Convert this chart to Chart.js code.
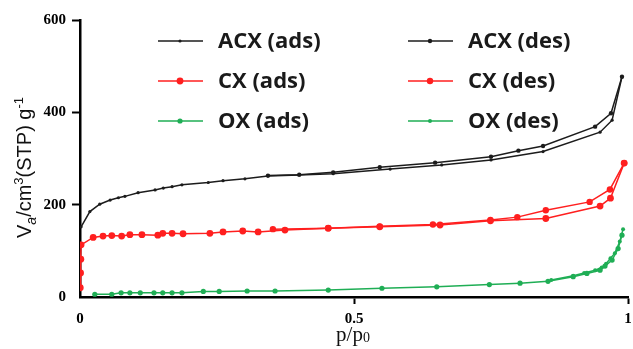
<!DOCTYPE html>
<html>
<head>
<meta charset="utf-8">
<script src="https://cdn.jsdelivr.net/npm/chart.js@4"></script>
<style>
  html, body { margin: 0; padding: 0; background: #fff; }
  #wrap { width: 633px; height: 349px; position: relative; }
</style>
</head>
<body>
<div id="wrap"><canvas id="isoChart"></canvas></div>
<script>
// Isotherm data (p/p0 vs volume adsorbed)
const acxAdsP = [0.002,0.018,0.036,0.055,0.07,0.082,0.106,0.137,0.152,0.168,0.186,0.234,0.261,0.301,0.343,0.40,0.462,0.566,0.66,0.75,0.845,0.949,0.971,0.989];
const acxAdsV = [152,185,201,210,215,218,226,232,236,239,243,248,252,256,262,264,267,277,286,297,315,357,383,477];
const acxDesP = [0.989,0.969,0.94,0.845,0.80,0.75,0.648,0.547,0.462,0.40,0.343];
const acxDesV = [477,398,369,327,317,304,291,281,270,265,263];

const cxAdsP = [0.0005,0.001,0.0015,0.002,0.024,0.042,0.058,0.076,0.091,0.113,0.142,0.151,0.168,0.188,0.237,0.261,0.297,0.325,0.374,0.453,0.547,0.657,0.749,0.85,0.949,0.968,0.993];
const cxAdsV = [20,52,82,113,129,132,133,132,135,135,134,138,138,137,138,141,143,141,145,149,152,156,165,170,197,214,290];
const cxDesP = [0.993,0.967,0.93,0.85,0.798,0.749,0.644,0.547,0.453,0.352];
const cxDesV = [290,233,206,188,173,167,157,153,149,147];

const oxAdsP = [0.027,0.058,0.075,0.091,0.11,0.135,0.151,0.168,0.186,0.225,0.254,0.305,0.356,0.453,0.551,0.651,0.747,0.803,0.854,0.9,0.925,0.949,0.958,0.971,0.982,0.989];
const oxAdsV = [6,6,9,9,9,9,9,9,9,12,12,13,13,15,19,22,27,30,34,44,51,58,67,80,105,134];
const oxDesP = [0.991,0.985,0.976,0.968,0.96,0.952,0.94,0.92,0.9,0.86];
const oxDesV = [147,120,95,84,72,64,58,52,46,37];

const seriesLabels = ['ACX (ads)','ACX (des)','CX (ads)','CX (des)','OX (ads)','OX (des)'];
const xTicks = [0, 0.5, 1];
const xTickLabels = ['0','0.5','1'];
const yTicks = [0, 200, 400, 600];

const BLACK = '#1c1c1c', RED = '#ff1f1f', GREEN = '#1fae55';

function pts(ps, vs) { return ps.map((p, i) => ({ x: p, y: vs[i] })); }

function series(label, ps, vs, color, r) {
  return {
    label, data: pts(ps, vs), showLine: true,
    borderColor: color, backgroundColor: color, borderWidth: 1.5,
    pointRadius: r, pointHoverRadius: r, pointBorderWidth: 0, tension: 0
  };
}

// legend + axis titles drawn by hand (2-column legend, sub/superscripts)
const decor = {
  id: 'decor',
  afterDraw(chart) {
    const ctx = chart.ctx;
    ctx.save();
    const cols = [158, 408], rows = [41, 81, 121];
    chart.data.datasets.forEach((ds, i) => {
      const x = cols[i % 2], y = rows[Math.floor(i / 2)];
      ctx.strokeStyle = ds.borderColor; ctx.lineWidth = 1.5;
      ctx.beginPath(); ctx.moveTo(x, y); ctx.lineTo(x + 45, y); ctx.stroke();
      ctx.fillStyle = ds.borderColor;
      ctx.beginPath(); ctx.arc(x + 22, y, ds.pointRadius, 0, Math.PI * 2); ctx.fill();
      ctx.fillStyle = '#1a1a1a';
      ctx.font = 'bold 22px "Open Sans"';
      ctx.textBaseline = 'middle';
      ctx.fillText(ds.label, x + 60, y + 1);
    });

    // y title
    ctx.translate(31, 238);
    ctx.rotate(-Math.PI / 2);
    ctx.textBaseline = 'alphabetic';
    ctx.fillStyle = '#111';
    let cx = 0;
    const part = (t, font, dy) => { ctx.font = font; ctx.fillText(t, cx, dy); cx += ctx.measureText(t).width; };
    part('V', '20px "Liberation Sans"', 0);
    part('a', 'italic 14px "Liberation Sans"', 5);
    part('/cm', '20px "Liberation Sans"', 0);
    part('3', '13px "Liberation Sans"', -8);
    part('(STP) g', '20px "Liberation Sans"', 0);
    part('-1', '13px "Liberation Sans"', -8);
    ctx.setTransform(1, 0, 0, 1, 0, 0);

    // x title
    ctx.font = '21px "Liberation Serif"';
    const w1 = ctx.measureText('p/p').width;
    ctx.font = '14px "Liberation Serif"';
    const w2 = ctx.measureText('0').width;
    const sx = 353 - (w1 + w2) / 2;
    ctx.font = '21px "Liberation Serif"';
    ctx.fillText('p/p', sx, 341);
    ctx.font = '14px "Liberation Serif"';
    ctx.fillText('0', sx + w1, 342);
    ctx.restore();
  }
};

const tickFont = { family: '"Liberation Serif"', weight: 'bold', size: 15 };

new Chart(document.getElementById('isoChart').getContext('2d'), {
  type: 'scatter',
  data: {
    datasets: [
      series(seriesLabels[0], acxAdsP, acxAdsV, BLACK, 1.6),
      series(seriesLabels[1], acxDesP, acxDesV, BLACK, 2.2),
      series(seriesLabels[2], cxAdsP, cxAdsV, RED, 3.4),
      series(seriesLabels[3], cxDesP, cxDesV, RED, 3.2),
      series(seriesLabels[4], oxAdsP, oxAdsV, GREEN, 2.6),
      series(seriesLabels[5], oxDesP, oxDesV, GREEN, 2)
    ]
  },
  options: {
    responsive: true, maintainAspectRatio: false, animation: false,
    layout: { padding: { top: 20, right: 5, left: 0, bottom: 0 } },
    plugins: { legend: { display: false }, tooltip: { enabled: false } },
    scales: {
      x: {
        type: 'linear', min: 0, max: 1,
        afterBuildTicks: s => { s.ticks = xTicks.map(v => ({ value: v })); },
        afterFit: s => { s.height = 52; s.paddingRight = 0; s.paddingLeft = 0; },
        ticks: {
          callback: v => xTickLabels[xTicks.indexOf(v)] ?? '',
          font: tickFont, color: '#000', padding: 6, maxRotation: 0, autoSkip: false
        },
        grid: {
          drawOnChartArea: false, drawTicks: true, tickLength: 7, tickWidth: 2,
          tickColor: c => c.tick && c.tick.value === 0 ? 'rgba(0,0,0,0)' : '#000'
        },
        border: { color: '#000', width: 2.5 }
      },
      y: {
        min: 0, max: 600,
        afterBuildTicks: s => { s.ticks = yTicks.map(v => ({ value: v })); },
        afterFit: s => { s.width = 80; },
        ticks: { font: tickFont, color: '#000', padding: 6, autoSkip: false },
        grid: {
          drawOnChartArea: false, drawTicks: true, tickLength: 8, tickWidth: 2,
          tickColor: c => c.tick && c.tick.value === 0 ? 'rgba(0,0,0,0)' : '#000'
        },
        border: { color: '#000', width: 2.5 }
      }
    }
  },
  plugins: [decor]
});
</script>
</body>
</html>
